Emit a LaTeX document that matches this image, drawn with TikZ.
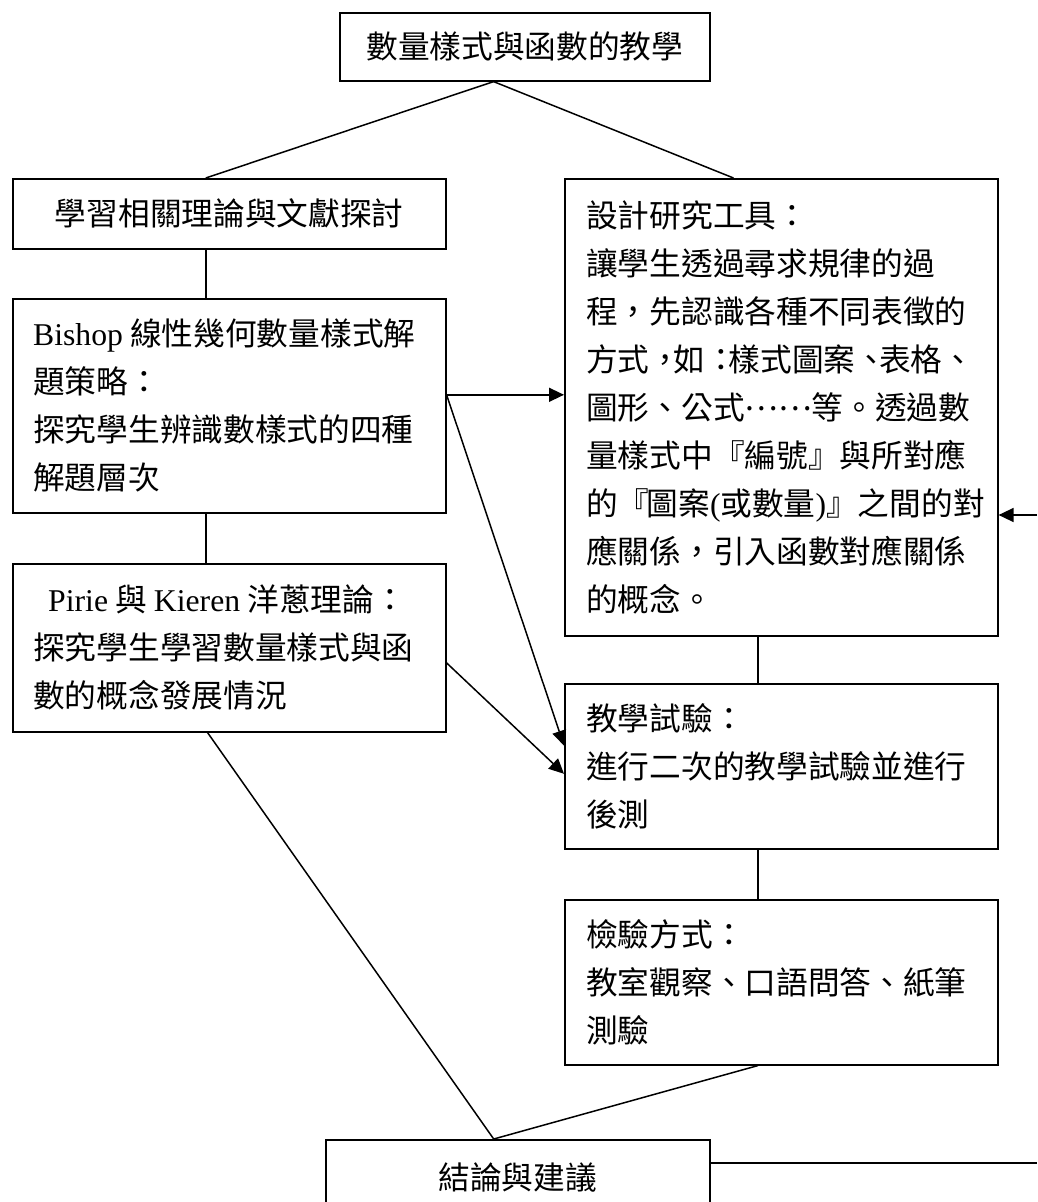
\documentclass[tikz,border=0pt]{standalone}
\usepackage{fontspec}
\newfontfamily\cjk{Noto Sans CJK TC}
\newfontfamily\lat{Liberation Serif}
\usetikzlibrary{arrows.meta,calc}
\newcommand\cjkfont{\fontsize{31.7}{48}\selectfont\cjk}
\begin{document}
\begin{tikzpicture}[x=1pt,y=-1pt,
  box/.style={draw, line width=1.6pt, inner sep=0pt, anchor=north west, font=\cjkfont},
  txt/.style={inner sep=0pt, align=left, anchor=west, font=\cjkfont},
  conn/.style={line width=1.5pt},
  arr/.style={conn, -{Triangle[length=15pt,width=14pt]}}]
\useasboundingbox (0,0) rectangle (1037,1202);
\fill[white] (0,0) rectangle (1037,1202);
% boxes
\node[box, minimum width=370pt, minimum height=68pt] (top) at (339,12) {數量樣式與函數的教學};
\node[box, minimum width=433pt, minimum height=70pt] (b2) at (12,178) {學習相關理論與文獻探討};
\node[box, minimum width=433pt, minimum height=214pt] (b3) at (12,298) {};
\node[box, minimum width=433pt, minimum height=168pt] (b4) at (12,563) {};
\node[box, minimum width=433pt, minimum height=457pt] (rb) at (564,178) {};
\node[box, minimum width=433pt, minimum height=165pt] (b5) at (564,683) {};
\node[box, minimum width=433pt, minimum height=165pt] (b6) at (564,899) {};
\node[box, minimum width=384pt, minimum height=76pt] (end) at (325,1139) {結論與建議};
% texts
\node[txt] (t3) at ($(b3.west)+(21,0)$) {{\lat Bishop} 線性幾何數量樣式解\\題策略：\\探究學生辨識數樣式的四種\\解題層次};
\node[txt] (t4) at ($(b4.west)+(21,0)$) {\hspace*{15pt}{\lat Pirie} 與 {\lat Kieren} 洋蔥理論：\\探究學生學習數量樣式與函\\數的概念發展情況};
\node[txt] (trb) at ($(rb.west)+(22,0)$) {設計研究工具：\\讓學生透過尋求規律的過\\程，先認識各種不同表徵的\\方式，\kern-8pt 如：\kern-8pt 樣式圖案、\kern-8pt 表格、\\圖形、公式\raisebox{9pt}{……}等。透過數\\量樣式中『編號』與所對應\\的『\kern-3pt 圖案{\lat (}或數量{\lat )}』之間的對\\應關係，引入函數對應關係\\的概念。};
\node[txt] (t5) at ($(b5.west)+(22,0)$) {教學試驗：\\進行二次的教學試驗並進行\\後測};
\node[txt] (t6) at ($(b6.west)+(22,0)$) {檢驗方式：\\教室觀察、口語問答、紙筆\\測驗};
% connectors
\coordinate (apex) at ($(top.south west)!0.416!(top.south east)$);
\draw[conn] (apex) -- ($(b2.north west)!0.446!(b2.north east)$);
\draw[conn] (apex) -- ($(rb.north west)!0.39!(rb.north east)$);
\draw[conn] ($(b2.south west)!0.446!(b2.south east)$) -- ($(b3.north west)!0.446!(b3.north east)$);
\draw[conn] ($(b3.south west)!0.446!(b3.south east)$) -- ($(b4.north west)!0.446!(b4.north east)$);
\draw[conn] ($(rb.south west)!0.446!(rb.south east)$) -- ($(b5.north west)!0.446!(b5.north east)$);
\draw[conn] ($(b5.south west)!0.446!(b5.south east)$) -- ($(b6.north west)!0.446!(b6.north east)$);
\coordinate (p1) at ($(b3.north east)!0.449!(b3.south east)$);
\coordinate (p2) at ($(b4.north east)!0.589!(b4.south east)$);
\draw[arr] (p1) -- (p1 -| rb.west);
\draw[arr] (p1) -- ($(b5.north west)!0.376!(b5.south west)$);
\draw[arr] (p2) -- ($(b5.north west)!0.545!(b5.south west)$);
\coordinate (rin) at (1037,515);
\draw[arr] (rin) -- (rin -| rb.east);
\coordinate (endtop) at ($(end.north west)!0.4375!(end.north east)$);
\draw[conn] ($(b4.south west)!0.45!(b4.south east)$) -- (endtop);
\draw[conn] ($(b6.south west)!0.446!(b6.south east)$) -- (endtop);
\coordinate (rout) at (1037,1163);
\draw[conn] (rout -| end.east) -- (rout);
\end{tikzpicture}
\end{document}
